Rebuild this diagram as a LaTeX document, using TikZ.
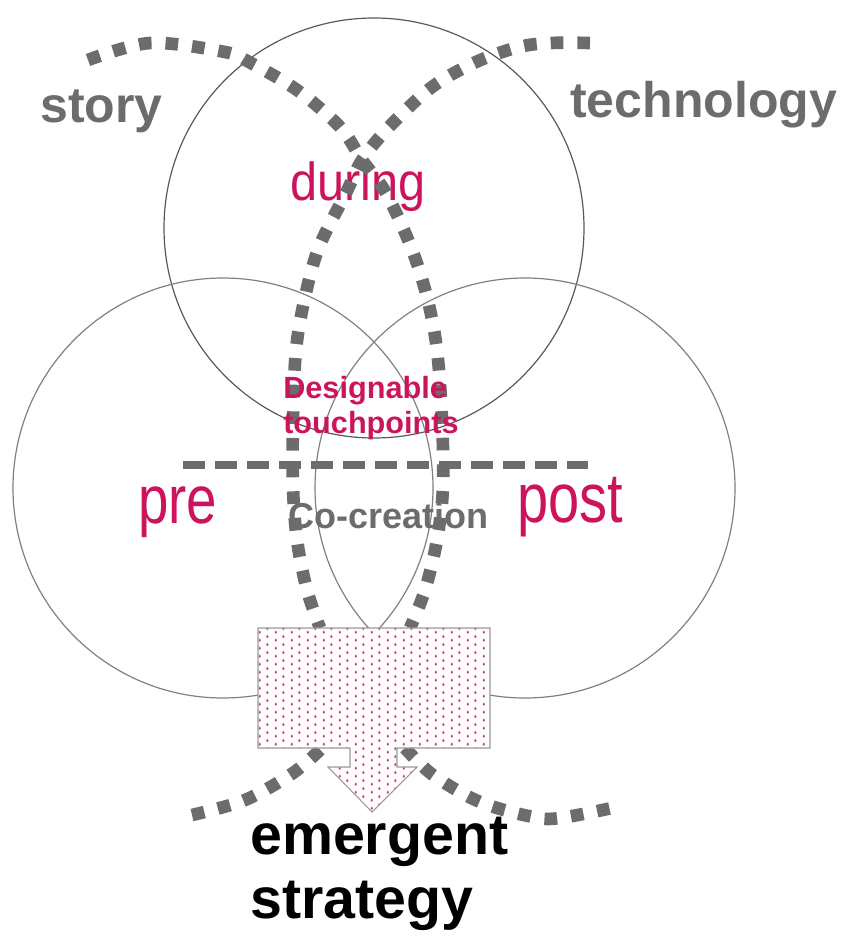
\documentclass[tikz,border=0pt]{standalone}
\usepackage{fontspec}
\setmainfont{Liberation Sans}
\usetikzlibrary{positioning,patterns}

\definecolor{rose}{RGB}{204,20,92}
\definecolor{ink}{RGB}{108,108,108}
\definecolor{dotpink}{RGB}{212,70,135}
\pgfdeclarepatternformonly{speckle}{\pgfqpoint{0pt}{0pt}}{\pgfqpoint{12pt}{6pt}}{\pgfqpoint{12pt}{6pt}}{%
  \pgfpathellipse{\pgfqpoint{3pt}{1.5pt}}{\pgfqpoint{0.95pt}{0pt}}{\pgfqpoint{0pt}{1.45pt}}%
  \pgfpathellipse{\pgfqpoint{9pt}{4.5pt}}{\pgfqpoint{0.95pt}{0pt}}{\pgfqpoint{0pt}{1.45pt}}%
  \pgfusepath{fill}}

\begin{document}
\begin{tikzpicture}[
      x=0.75pt,y=-0.75pt,
      ring/.style={draw=black!50,line width=0.9pt,circle,minimum size=315pt,inner sep=0pt},
      trail/.style={draw=ink,line width=9.5pt,dash pattern=on 9.5pt off 10.5pt},
      divide/.style={draw=ink,line width=6pt,dash pattern=on 16.5pt off 7.5pt},
      word/.style={anchor=base west,inner sep=0pt,font=\bfseries\fontsize{37.5}{40}\selectfont,text=ink},
      phase/.style={anchor=base west,inner sep=0pt,text=rose}]
    \useasboundingbox (0,0) rectangle (846,938);
    % three phases
    \node[ring,draw=black!65] (cdur) at (374,228) {};
    \node[ring] (cpre) at (223,488) {};
    \node[ring] (cpost) at (525,488) {};
    \node[phase,yscale=1.1,font=\fontsize{36.5}{40}\selectfont] (during) at (290,200) {during};
    % story and technology threads
    \draw[trail] plot[smooth,tension=0.55] coordinates {(88,60) (150,43) (225,52) (249,62) (297,90)
      (340,127) (362,160) (386,193) (411,247) (427,297) (437,350) (442,420) (443,487) (437,540)
      (425,590) (410,628)};
    \draw[trail] plot[smooth,tension=0.55] coordinates {(590,43) (551,43) (519,47) (476,62) (432,87)
      (389,127) (362,160) (346,193) (319,247) (305,297) (296,350) (293,420) (293,487) (297,540)
      (307,590) (320,628)};
    \draw[trail] plot[smooth,tension=0.55] coordinates {(192,815) (245,800) (293,773) (322,748)};
    \draw[trail] plot[smooth,tension=0.55] coordinates {(405,748) (433,775) (480,802) (533,817)
      (560,818) (612,808)};
    \coordinate (cutl) at (183,465);
    \coordinate (cutr) at (588,465);
    \draw[divide] (cutl) -- (cutr);
    % outcome arrow
    \draw[draw=black!40,line width=0.8pt,preaction={fill=white},pattern=speckle,pattern color=dotpink]
      (258,628) -- (490,628) -- (490,748) -- (397,748) -- (397,767) -- (417,767) -- (372,812)
      -- (328,767) -- (350,767) -- (350,748) -- (258,748) -- cycle;
    % labels
    \node[word] (story) at (40,123) {story};
    \node[word] (tech) at (570,118) {technology};
    \node[phase,yscale=1.25,font=\fontsize{41}{44}\selectfont] (pre) at (138,523) {pre};
    \node[phase,yscale=1.25,font=\fontsize{42}{44}\selectfont] (post) at (517,522) {post};
    \node[phase,align=left,font=\bfseries\fontsize{23}{26}\selectfont] (touch) at (283,433)
      {Designable\\touchpoints};
    \node[word,font=\bfseries\fontsize{27}{30}\selectfont] (cocre) at (288,528) {Co-creation};
    \node[word,text=black,align=left,font=\bfseries\fontsize{43}{47.5}\selectfont] (strat) at (250,918)
      {emergent\\strategy};
  \end{tikzpicture}
\end{document}
